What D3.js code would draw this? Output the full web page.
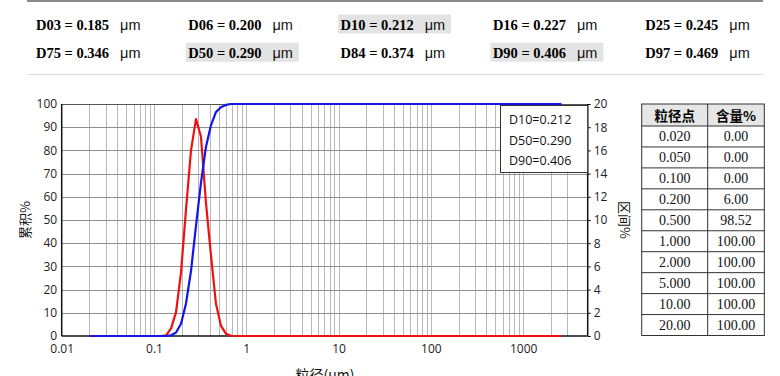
<!DOCTYPE html>
<html><head><meta charset="utf-8">
<script src="https://cdn.jsdelivr.net/npm/d3@7"></script>
<style>
html,body{margin:0;padding:0;background:#fff;}
svg{display:block;}
</style>
</head><body>
<svg id="c" width="780" height="376"></svg>
<script>
// ---- data ----
const headerLabels = ["D03","D06","D10","D16","D25","D75","D50","D84","D90","D97"];
const headerValues = ["0.185","0.200","0.212","0.227","0.245","0.346","0.290","0.374","0.406","0.469"];
const headerHighlight = [false,false,true,false,false,false,true,false,true,false];
const unitLabel = "μm";

const sizes      = [0.02,0.05,0.1,0.1194,0.1352,0.1531,0.1733,0.1963,0.2222,0.2517,0.285,0.3227,0.3655,0.4139,0.4687,0.5307,0.601,0.6805,0.7707,1,10,100,1000,2600];
const cumulative = [0,0,0,0,0,0.3,1.5,5.3,14.0,28.0,47.5,66.0,81.5,90.8,96.5,98.6,99.6,100,100,100,100,100,100,100];
const frequency  = [0,0,0,0,0.05,0.66,2.06,5.5,10.9,16.0,18.7,17.2,11.5,7.0,2.8,0.9,0.2,0.02,0,0,0,0,0,0];

const xTickValues = [0.01,0.1,1,10,100,1000];
const xTickLabels = ["0.01","0.1","1","10","100","1000"];
const yLeftTicks  = [0,10,20,30,40,50,60,70,80,90,100];
const yRightTicks = [0,2,4,6,8,10,12,14,16,18,20];

const legendLines = ["D10=0.212","D50=0.290","D90=0.406"];

const tableHead = ["粒径点","含量%"];
const tableSizes = ["0.020","0.050","0.100","0.200","0.500","1.000","2.000","5.000","10.00","20.00"];
const tableContents = ["0.00","0.00","0.00","6.00","98.52","100.00","100.00","100.00","100.00","100.00"];

const xTitle = "粒径(um)", yLeftTitle = "累积%", yRightTitle = "区间%";

// ---- drawing ----
const svg = d3.select("#c");
const serif = "'Liberation Serif','Times New Roman',serif";
const sans = "'Open Sans','Noto Sans',sans-serif";
const cjk = "'Noto Sans CJK SC','Noto Sans',sans-serif";

// header
svg.append("line").attr("x1",27).attr("x2",763).attr("y1",1).attr("y2",1).attr("stroke","#8a8a8a").attr("stroke-width",2);
svg.append("line").attr("x1",27).attr("x2",763).attr("y1",74.5).attr("y2",74.5).attr("stroke","#dcdcdc").attr("stroke-width",1);
const colX = [36,188.3,340.6,492.9,645.2];
const rowBase = [29.5,57.7];
headerLabels.forEach((lab,i)=>{
  const cx = colX[i%5], by = rowBase[Math.floor(i/5)];
  const g = svg.append("g");
  if(headerHighlight[i]) g.append("rect").attr("x",cx-2.5).attr("y",by-15).attr("width",113).attr("height",19).attr("fill","#e3e3e3");
  const t = g.append("text").attr("x",cx).attr("y",by).attr("font-family",serif).attr("font-weight","bold")
    .attr("font-size",14.5).attr("fill","#000").text(lab+" = "+headerValues[i]);
  const w = t.node().getComputedTextLength();
  g.append("text").attr("x",cx+w+11).attr("y",by).attr("font-family","'Liberation Sans',Arial,sans-serif")
    .attr("font-size",14.5).attr("fill","#111").text(unitLabel);
});

// chart
const L=61.7, R=587.7, T=104, B=336;
const x = d3.scaleLog().domain([0.01,5000]).range([L,R]);
const yL = d3.scaleLinear().domain([0,100]).range([B,T]);
const yR = d3.scaleLinear().domain([0,20]).range([B,T]);

// vertical grid
const vgrid = [];
for(let k=-2;k<=2;k++) for(let m=1;m<=9;m++){ const v=m*Math.pow(10,k); if(v>0.0100001) vgrid.push(v); }
vgrid.push(1000,2000,3000);
svg.append("g").selectAll("line").data(vgrid).join("line")
  .attr("x1",d=>Math.round(x(d))+0.5).attr("x2",d=>Math.round(x(d))+0.5).attr("y1",T).attr("y2",B)
  .attr("stroke","#b8b8b8").attr("stroke-width",1);
// horizontal grid
svg.append("g").selectAll("line").data(yLeftTicks.filter(d=>d>0&&d<100)).join("line")
  .attr("x1",L).attr("x2",R).attr("y1",d=>Math.round(yL(d))+0.5).attr("y2",d=>Math.round(yL(d))+0.5)
  .attr("stroke","#909090").attr("stroke-width",1);

// frame
svg.append("line").attr("x1",L).attr("x2",R).attr("y1",T+0.5).attr("y2",T+0.5).attr("stroke","#555").attr("stroke-width",1.2);
svg.append("line").attr("x1",L).attr("x2",R).attr("y1",B).attr("y2",B).attr("stroke","#111").attr("stroke-width",1.5);
svg.append("line").attr("x1",L).attr("x2",L).attr("y1",T).attr("y2",B).attr("stroke","#111").attr("stroke-width",1.5);
svg.append("line").attr("x1",R).attr("x2",R).attr("y1",T).attr("y2",B).attr("stroke","#111").attr("stroke-width",1.5);

// axes labels
const axL = d3.axisLeft(yL).tickValues(yLeftTicks).tickSize(0).tickPadding(4);
const gL = svg.append("g").attr("transform",`translate(${L-0.5},0)`).call(axL);
const axR = d3.axisRight(yR).tickValues(yRightTicks).tickSize(3).tickPadding(3);
const gR = svg.append("g").attr("transform",`translate(${R},0)`).call(axR);
const axB = d3.axisBottom(x).tickValues(xTickValues).tickFormat((d,i)=>xTickLabels[i]).tickSize(0).tickPadding(8.5);
const gB = svg.append("g").attr("transform",`translate(0,${B})`).call(axB);
[gL,gR,gB].forEach(g=>{
  g.select(".domain").remove();
  g.selectAll("text").attr("font-family",sans).attr("font-size",12).attr("fill","#222");
  g.selectAll("line").attr("stroke","#111");
});
gL.selectAll("text").attr("dy","0.3em");

// lines
const lineL = d3.line().x((d,i)=>x(sizes[i])).y(d=>yL(d));
const lineR = d3.line().x((d,i)=>x(sizes[i])).y(d=>yR(d));
svg.append("path").datum(frequency).attr("d",lineR).attr("fill","none").attr("stroke","#ee1111").attr("stroke-width",2.2).attr("stroke-linejoin","round");
svg.append("path").datum(cumulative).attr("d",lineL).attr("fill","none").attr("stroke","#1515e8").attr("stroke-width",2.2).attr("stroke-linejoin","round");

// legend box
svg.append("rect").attr("x",500.5).attr("y",105.5).attr("width",R-500.5).attr("height",67).attr("fill","#fff").attr("stroke","#333").attr("stroke-width",1);
legendLines.forEach((s,i)=>{
  svg.append("text").attr("x",509).attr("y",123.8+i*20.7).attr("font-family",sans).attr("font-size",12.5).attr("fill","#111").text(s);
});

// axis titles
svg.append("text").attr("transform","translate(29.5,220) rotate(-90)").attr("text-anchor","middle")
  .attr("font-family",cjk).attr("font-size",13).attr("fill","#111").text(yLeftTitle);
svg.append("text").attr("transform","translate(620,220) rotate(90)").attr("text-anchor","middle")
  .attr("font-family",cjk).attr("font-size",13).attr("fill","#111").text(yRightTitle);
svg.append("text").attr("x",325).attr("y",380).attr("text-anchor","middle")
  .attr("font-family",cjk).attr("font-size",14).attr("fill","#111").text(xTitle);

// table
const tL=641.7, tM=707.7, tR=764.3, tT=104, hH=22, rH=20.95;
const tB = tT+hH+rH*tableSizes.length;
svg.append("rect").attr("x",tL).attr("y",tT).attr("width",tR-tL).attr("height",hH).attr("fill","#e6e6e6");
const tg = svg.append("g").attr("stroke","#333").attr("stroke-width",1);
tg.append("rect").attr("x",tL).attr("y",tT).attr("width",tR-tL).attr("height",tB-tT).attr("fill","none");
tg.append("line").attr("x1",tM).attr("x2",tM).attr("y1",tT).attr("y2",tB);
tableSizes.forEach((d,i)=>{
  const yy = tT+hH+rH*i;
  tg.append("line").attr("x1",tL).attr("x2",tR).attr("y1",yy).attr("y2",yy);
});
const c1=(tL+tM)/2, c2=(tM+tR)/2;
svg.append("text").attr("x",c1).attr("y",tT+16.5).attr("text-anchor","middle").attr("font-family",cjk).attr("font-weight","bold").attr("font-size",13.5).text(tableHead[0]);
svg.append("text").attr("x",c2).attr("y",tT+16.5).attr("text-anchor","middle").attr("font-family",cjk).attr("font-weight","bold").attr("font-size",13.5).text(tableHead[1]);
tableSizes.forEach((d,i)=>{
  const yc = tT+hH+rH*i+rH/2+5;
  svg.append("text").attr("x",c1).attr("y",yc).attr("text-anchor","middle").attr("font-family",serif).attr("font-size",14).attr("fill","#111").text(d);
  svg.append("text").attr("x",c2).attr("y",yc).attr("text-anchor","middle").attr("font-family",serif).attr("font-size",14).attr("fill","#111").text(tableContents[i]);
});
</script>
</body></html>
